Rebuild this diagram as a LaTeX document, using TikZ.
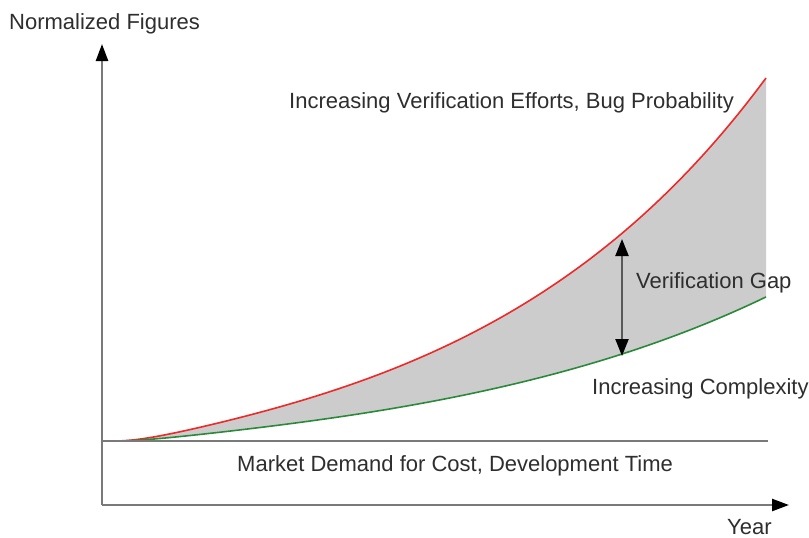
\documentclass[tikz,border=0pt]{standalone}
\usepackage{fontspec}
\setmainfont{Liberation Sans}
\usetikzlibrary{arrows.meta}
\definecolor{axisgray}{HTML}{7A7A7A}
\definecolor{gapfill}{HTML}{CCCCCC}
\definecolor{labeltext}{HTML}{2E2E2E}
\definecolor{effortred}{HTML}{F02828}
\definecolor{complexgreen}{HTML}{2A8A3A}
\tikzset{
  axis/.style={draw=axisgray, line width=2.4pt, -{Triangle[width=12pt,length=17pt,black]}},
  baseline/.style={draw=axisgray, line width=2.4pt},
  gaparrow/.style={draw=black!65, line width=2.2pt,
    {Triangle[width=13pt,length=17pt,black]}-{Triangle[width=13pt,length=17pt,black]}},
  lbl/.style={text=labeltext, font=\fontsize{22}{26}\selectfont, inner sep=0pt, anchor=base west},
  % growth curves, u = distance from the common start at x = 115
  growth/.style={domain=0:651, samples=120, variable=\u},
  growthback/.style={domain=651:0, samples=120, variable=\u},
}
% heights of the two trends above the demand level (flat start, exponential rise)
\newcommand{\efforth}[1]{48.1*(exp(0.0033*#1)-1)*(1-exp(-#1/40))}
\newcommand{\complexh}[1]{27.6*(exp(0.0028*#1)-1)*(1-exp(-#1/40))}
\begin{document}
\begin{tikzpicture}[x=1pt,y=-1pt]
\useasboundingbox (0,0) rectangle (809,538);

% shaded gap between the two trends
\fill[gapfill]
  plot[growth] ({115+\u},{441-\efforth{\u}})
  -- plot[growthback] ({115+\u},{441-\complexh{\u}})
  -- cycle;

% trend curves
\draw[effortred, line width=1.6pt]
  plot[growth] ({115+\u},{441-\efforth{\u}});
\draw[complexgreen, line width=1.6pt]
  plot[growth] ({115+\u},{441-\complexh{\u}});

% axes and market demand level
\coordinate (O) at (102,505);
\coordinate (ytop) at (102,44);
\coordinate (xend) at (789,505);
\coordinate (mstart) at (102,441);
\coordinate (mend) at (768,441);
\draw[baseline] (mstart) -- (mend);
\draw[axis] (O) -- (ytop);
\draw[axis] (O) -- (xend);

% verification gap marker
\coordinate (gaptop) at (622,239);
\coordinate (gapbot) at (622,356);
\draw[gaparrow] (gapbot) -- (gaptop);

% labels
\node[lbl] (ylabel) at (9,29.5) {Normalized Figures};
\node[lbl] (xlabel) at (727,534) {Year};
\node[lbl] (effort) at (289,108) {Increasing Verification Efforts, Bug Probability};
\node[lbl] (gap) at (636,288) {Verification Gap};
\node[lbl] (complex) at (592,394) {Increasing Complexity};
\node[lbl] (market) at (237,471) {Market Demand for Cost, Development Time};
\end{tikzpicture}
\end{document}
